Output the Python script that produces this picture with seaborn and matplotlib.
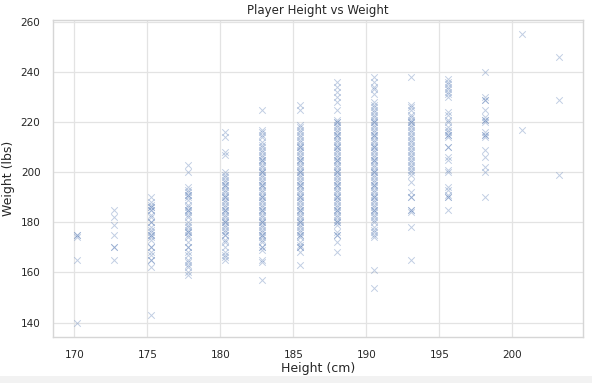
import matplotlib
matplotlib.use("Agg")
import matplotlib.pyplot as plt
from matplotlib.patches import Rectangle
import seaborn as sns
import pandas as pd

heights_cm = [170.18, 172.72, 175.26, 177.8, 180.34, 182.88, 185.42,
              187.96, 190.5, 193.04, 195.58, 198.12, 200.66, 203.2]

w_170 = [175, 175, 174, 165, 140]
w_172 = [185, 182, 179, 175, 170, 170, 165]
w_175 = [190, 188, 187, 186, 186, 185, 185, 183, 182, 180, 180, 178, 177, 176,
         175, 175, 174, 173, 170, 170, 168, 167, 165, 165, 162, 143]
w_177 = [203, 200, 194, 193, 192, 191, 191, 190, 189, 187, 186, 185, 185, 184,
         183, 182, 180, 179, 178, 177, 176, 176, 175, 174, 172, 170, 170, 168,
         167, 165, 164, 163, 162, 160, 159]
w_180 = [216, 214, 208, 207, 200, 199, 198, 197, 196, 195, 195, 194, 193, 192,
         191, 190, 190, 189, 188, 187, 186, 185, 185, 184, 183, 182, 181, 180,
         180, 179, 178, 177, 176, 175, 175, 173, 172, 170, 168, 167, 166, 165]
w_182 = [225, 217, 216, 215, 214, 212, 211, 210, 209, 208, 207, 206, 205, 205,
         204, 203, 202, 201, 200, 200, 199, 198, 197, 196, 195, 195, 194, 193,
         192, 191, 190, 190, 189, 188, 187, 186, 185, 185, 184, 183, 182, 181,
         180, 180, 179, 178, 177, 176, 175, 175, 174, 173, 172, 170, 170, 169,
         165, 164, 157]
w_185 = [227, 225, 219, 218, 217, 216, 215, 214, 213, 212, 211, 210, 210, 209,
         208, 207, 206, 205, 205, 204, 203, 202, 201, 200, 200, 199, 198, 197,
         196, 195, 195, 194, 193, 192, 191, 190, 190, 189, 188, 187, 186, 185,
         185, 184, 183, 182, 181, 180, 180, 179, 178, 177, 176, 175, 175, 174,
         172, 171, 170, 170, 168, 163]
w_187 = [236, 234, 232, 230, 228, 225, 221, 220, 220, 219, 218, 217, 216, 215,
         215, 214, 213, 212, 211, 210, 210, 209, 208, 207, 206, 205, 205, 204,
         203, 202, 201, 200, 200, 199, 198, 197, 196, 195, 195, 194, 193, 192,
         191, 190, 190, 189, 188, 187, 186, 185, 185, 184, 183, 182, 181, 180,
         180, 179, 176, 175, 175, 172, 168]
w_190 = [238, 236, 234, 233, 231, 228, 227, 226, 225, 224, 223, 222, 221, 220,
         220, 219, 218, 217, 216, 215, 215, 214, 213, 212, 211, 210, 210, 209,
         208, 207, 206, 205, 205, 204, 203, 202, 201, 200, 200, 199, 198, 197,
         196, 195, 195, 194, 193, 192, 191, 190, 190, 189, 188, 187, 186, 185,
         185, 184, 183, 182, 181, 180, 178, 177, 176, 175, 174, 161, 154]
w_193 = [238, 227, 226, 225, 223, 222, 221, 220, 220, 219, 218, 217, 216, 215,
         214, 213, 212, 211, 210, 209, 208, 207, 206, 205, 204, 203, 202, 201,
         200, 199, 196, 192, 190, 190, 185, 185, 184, 178, 165]
w_195 = [237, 236, 235, 234, 233, 232, 231, 230, 224, 223, 221, 220, 218, 217,
         216, 215, 215, 214, 210, 210, 206, 205, 201, 200, 194, 193, 191, 190,
         190, 185]
w_198 = [240, 230, 229, 229, 225, 222, 221, 221, 220, 216, 215, 215, 214, 209,
         206, 202, 200, 190]
w_200 = [255, 217]
w_203 = [246, 229, 199]

weights_by_height = [w_170, w_172, w_175, w_177, w_180, w_182, w_185,
                     w_187, w_190, w_193, w_195, w_198, w_200, w_203]

rows = []
for h, ws in zip(heights_cm, weights_by_height):
    for w in ws:
        rows.append((h, w))
df = pd.DataFrame(rows, columns=["Height (cm)", "Weight (lbs)"])

sns.set_theme(style="whitegrid", rc={"grid.color": "#e3e3e3",
                                     "grid.linewidth": 0.9,
                                     "axes.edgecolor": "#d6d6d6",
                                     "axes.linewidth": 1.0})
plt.rcParams['font.family'] = ['DejaVu Sans']

fig, ax = plt.subplots(figsize=(5.92, 3.83), dpi=100)
fig.subplots_adjust(left=0.0895, right=0.985, top=0.948, bottom=0.12)

sns.scatterplot(data=df, x="Height (cm)", y="Weight (lbs)", marker="x",
                alpha=0.35, s=22, color="#4c72b0", linewidth=0.7, ax=ax)

ax.set_title("Player Height vs Weight", fontsize=8.5, pad=4, color="#262626")
ax.set_xlabel("Height (cm)", fontsize=9, labelpad=2)
ax.set_ylabel("Weight (lbs)", fontsize=9, labelpad=4)
ax.tick_params(axis="both", labelsize=7.5, pad=3)
ax.set_yticks([140, 160, 180, 200, 220, 240, 260])
ax.set_xticks([170, 175, 180, 185, 190, 195, 200])

fig.patches.append(Rectangle((0, 0), 1, 7 / 383, transform=fig.transFigure,
                             facecolor="#f2f2f2", edgecolor="none", zorder=-1))

fig.savefig("out.png", dpi=100)
